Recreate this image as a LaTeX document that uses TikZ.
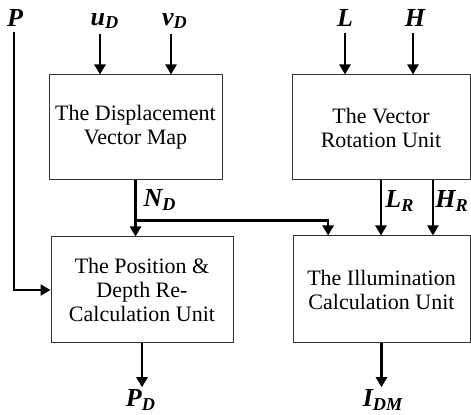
\documentclass[tikz,border=0pt]{standalone}
\usepackage{fontspec}
\setmainfont{Liberation Serif}
\usetikzlibrary{arrows.meta, positioning, calc}

\begin{document}
\begin{tikzpicture}[x=0.5pt, y=-0.5pt,
    unit/.style={draw=black!80, line width=0.5pt, inner sep=0pt, align=center,
        minimum height=52.5pt, font=\fontsize{11}{12}\selectfont},
    sig/.style={inner sep=1pt, font=\fontsize{13}{14}\selectfont\bfseries\itshape},
    flow/.style={line width=1.2pt, -{Triangle[length=5pt, width=5.5pt]}}]
    % page frame
    \useasboundingbox (0,0) rectangle (471,415);

    % the four units
    \node[unit, minimum width=86.5pt] (disp) at (135.5,127.5) {The Displacement\\Vector Map};
    \node[unit, minimum width=89pt] (rot) at (381,127.5) {The Vector\\Rotation Unit};
    \node[unit, minimum width=91pt, minimum height=53pt] (pos) at (142,290) {The Position \&\\Depth Re-\\Calculation Unit};
    \node[unit, minimum width=88.5pt, minimum height=53.5pt] (illum) at (381.5,289.5) {The Illumination\\Calculation Unit};

    % input signals
    \node[sig] (P) at (15,18) {P};
    \node[sig] (uD) at (105,21) {u\textsubscript{D}};
    \node[sig] (vD) at (175,21) {v\textsubscript{D}};
    \node[sig] (L) at (345,18) {L};
    \node[sig] (H) at (415,18) {H};
    \coordinate (pTop) at (14,32);
    \coordinate (uTop) at (100,34);
    \coordinate (vTop) at (171,34);
    \coordinate (lTop) at (345,33);
    \coordinate (hTop) at (413,33);

    \draw[flow] (uTop) -- (uTop |- disp.north);
    \draw[flow] (vTop) -- (vTop |- disp.north);
    \draw[flow] (lTop) -- (lTop |- rot.north);
    \draw[flow] (hTop) -- (hTop |- rot.north);
    \draw[flow] (pTop) |- (pos.west);

    % inner signals
    \coordinate (split) at ([yshift=-20pt]disp.south);
    \coordinate (nIn) at ($(illum.north west)!.2!(illum.north east)$);
    \coordinate (hOut) at ($(rot.south west)!.79!(rot.south east)$);
    \draw[flow] (disp.south) -- (disp.south |- pos.north);
    \draw[flow] (split) -| (nIn);
    \draw[flow] (rot.south) -- (rot.south |- illum.north);
    \draw[flow] (hOut) -- (hOut |- illum.north);
    \node[sig] (ND) at (160,200) {N\textsubscript{D}};
    \node[sig] (LR) at (400,201) {L\textsubscript{R}};
    \node[sig] (HR) at (452,201) {H\textsubscript{R}};

    % outputs
    \node[sig] (PD) at (141,400) {P\textsubscript{D}};
    \node[sig] (IDM) at (383,400) {I\textsubscript{DM}};
    \draw[flow] (pos.south) -- (pos.south |- PD.north);
    \draw[flow] (illum.south) -- (illum.south |- IDM.north);
\end{tikzpicture}
\end{document}
